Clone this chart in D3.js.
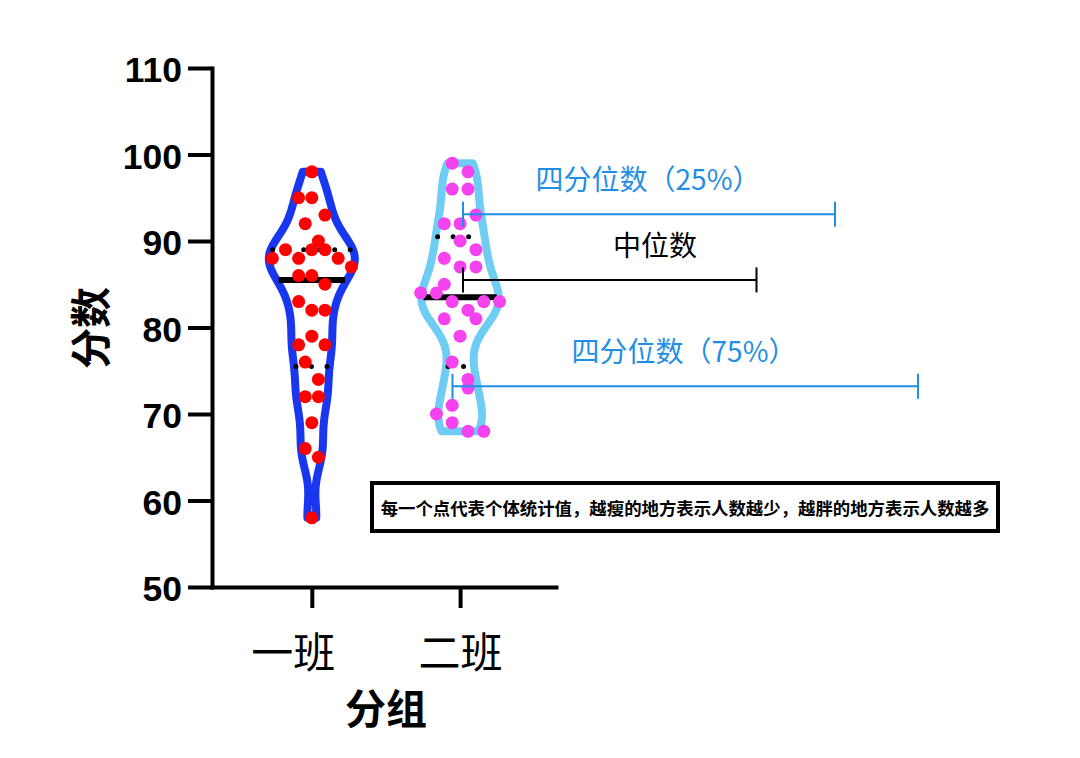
<!DOCTYPE html>
<meta charset="utf-8">
<style type="text/css">
	body { margin: 0; background: #fff; }
	svg { display: block; }
	.axis path, .axis line { stroke: #000; stroke-width: 4px; }
	.axis path { stroke-linecap: square; }
	.y.axis text {
		font-family: "Liberation Sans", Arial, sans-serif;
		font-weight: bold;
		font-size: 35.5px;
		fill: #000;
	}
	.x.axis text {
		font-family: "Noto Sans CJK SC", sans-serif;
		font-size: 42px;
		fill: #000;
	}
	.axis-title {
		font-family: "Noto Sans CJK SC", sans-serif;
		font-weight: bold;
		font-size: 41px;
	}
	.marker-label {
		font-family: "Noto Sans CJK SC", sans-serif;
		font-size: 28px;
	}
	.note {
		font-family: "Noto Sans CJK SC", sans-serif;
		font-weight: bold;
		font-size: 17.4px;
	}
</style>
<body></body>
<script src="https://d3js.org/d3.v7.min.js"></script>
<script>

	// data (within a row of dots: left to right)
	var groups = ["一班", "二班"];
	var class1Scores = [98, 95, 95, 93, 92, 90, 88, 89, 88, 89, 89, 88, 87, 86, 86,
		85, 83, 82, 82, 78, 79, 78, 76, 72, 72, 74, 69, 66, 65, 58];
	var class2Scores = [99, 98, 96, 96, 92, 92, 93, 88, 90, 89, 85, 87, 87, 84, 84,
		83, 82, 83, 83, 81, 79, 81, 76, 74, 71, 73, 70, 69, 68, 68];
	var yTicks = [50, 60, 70, 80, 90, 100, 110];
	var yTitle = "分数";
	var xTitle = "分组";
	var markerLabels = ["四分位数（25%）", "中位数", "四分位数（75%）"];
	var markerValues = [93.1, 85.5, 73.2];
	var noteText = "每一个点代表个体统计值，越瘦的地方表示人数越少，越胖的地方表示人数越多";

	var outlineColors = ["#1a37f0", "#6fcdf4"];
	var dotColors = ["#ff0000", "#f442ee"];
	var markerColors = ["#1f8fe5", "#000", "#1f8fe5"];

	var width = 1080, height = 758;

	var svg = d3.select("body").append("svg")
		.attr("width", width)
		.attr("height", height);

	var yScale = d3.scaleLinear()
		.domain([50, 110])
		.range([587, 68]);

	var xScale = d3.scalePoint()
		.domain(groups)
		.range([212, 556])
		.padding(0.66)
		.align(0.51);

	// axes
	svg.append("g")
		.attr("class", "y axis")
		.attr("transform", "translate(212,0)")
		.call(d3.axisLeft(yScale)
			.tickValues(yTicks)
			.tickSize(24)
			.tickSizeOuter(0)
			.tickPadding(6))
		.selectAll("text")
		.attr("dy", "0.38em");

	var xAxis = svg.append("g")
		.attr("class", "x axis")
		.attr("transform", "translate(0,587)")
		.call(d3.axisBottom(xScale)
			.tickSize(21)
			.tickSizeOuter(0));
	xAxis.selectAll("text")
		.attr("y", 81)
		.attr("dy", 0)
		.attr("dx", function(d, i) { return i === 0 ? -19 : 0; });

	svg.append("text")
		.attr("class", "axis-title")
		.attr("transform", "translate(88,328) rotate(-90)")
		.attr("text-anchor", "middle")
		.attr("dominant-baseline", "central")
		.text(yTitle);

	svg.append("text")
		.attr("class", "axis-title")
		.attr("x", 386)
		.attr("y", 724)
		.attr("text-anchor", "middle")
		.text(xTitle);

	// violins (gaussian kde, clipped at min / max like prism)
	var bandwidth = 2.4;
	var maxHalf = 43;
	var allGroups = [class1Scores, class2Scores];

	function density(values, t) {
		return d3.sum(values, function(v) {
			var u = (t - v) / bandwidth;
			return Math.exp(-0.5 * u * u);
		});
	}

	var curves = allGroups.map(function(values) {
		var lo = d3.min(values), hi = d3.max(values);
		var pts = [];
		for (var t = lo; t < hi; t += 0.2) pts.push({v: t, d: density(values, t)});
		pts.push({v: hi, d: density(values, hi)});
		return pts;
	});
	var maxD = d3.max(curves, function(c) { return d3.max(c, function(p) { return p.d; }); });
	var wScale = d3.scaleLinear().domain([0, maxD]).range([0, maxHalf]);

	// prism style quartiles: (n+1)p
	function quart(values, p) {
		var s = values.slice().sort(d3.ascending);
		var pos = (s.length + 1) * p - 1;
		var i = Math.floor(pos), f = pos - i;
		return s[i] + f * (s[i + 1] - s[i]);
	}

	var line = d3.line()
		.x(function(d) { return d[0]; })
		.y(function(d) { return d[1]; });

	allGroups.forEach(function(values, gi) {
		var cx = xScale(groups[gi]);
		var c = curves[gi];
		var right = c.map(function(p) { return [cx + wScale(p.d), yScale(p.v)]; });
		var left = c.slice().reverse().map(function(p) { return [cx - wScale(p.d), yScale(p.v)]; });

		svg.append("path")
			.attr("d", line(right.concat(left)) + "Z")
			.attr("fill", "none")
			.attr("stroke", outlineColors[gi])
			.attr("stroke-width", 8)
			.attr("stroke-linejoin", "round");

		// quartile lines
		[0.25, 0.5, 0.75].forEach(function(p) {
			var q = quart(values, p);
			var w = wScale(density(values, q)) - 2;
			var l = svg.append("line")
				.attr("x1", cx - w)
				.attr("x2", cx + w)
				.attr("y1", yScale(q))
				.attr("y2", yScale(q))
				.attr("stroke", "#000");
			if (p === 0.5) {
				l.attr("stroke-width", 6);
			} else {
				l.attr("stroke-width", 5)
					.attr("stroke-linecap", "round")
					.attr("stroke-dasharray", "0 15.5");
			}
		});
	});

	// dots: values binned into rows (2.5 wide), each row spread round the centre
	var r = 6.5;
	var rowSpan = 79;
	function rows(values) {
		var idx = d3.range(values.length).sort(function(a, b) { return values[b] - values[a] || a - b; });
		var bins = [], cur = null;
		idx.forEach(function(i) {
			if (!cur || values[i] <= cur.top - 2.5) {
				cur = {top: values[i], items: []};
				bins.push(cur);
			}
			cur.items.push(i);
		});
		var maxN = d3.max(bins, function(b) { return b.items.length; });
		var step = rowSpan / (maxN - 1);
		var offs = [];
		bins.forEach(function(b) {
			b.items.sort(d3.ascending);
			b.items.forEach(function(i, k) {
				offs[i] = (k - (b.items.length - 1) / 2) * step;
			});
		});
		return offs;
	}

	allGroups.forEach(function(values, gi) {
		var cx = xScale(groups[gi]);
		var offs = rows(values);
		svg.append("g")
			.selectAll("circle")
			.data(values)
			.enter()
			.append("circle")
			.attr("cx", function(d, i) { return cx + offs[i]; })
			.attr("cy", function(d) { return yScale(d); })
			.attr("r", r)
			.attr("fill", dotColors[gi]);
	});

	// annotation brackets
	var bracketX0 = [463, 463, 452.5];
	var bracketX1 = [835, 756.5, 918];
	var labelX = [648, 655, 684];
	markerValues.forEach(function(v, i) {
		var yy = yScale(v);
		var g = svg.append("g")
			.attr("stroke", markerColors[i])
			.attr("stroke-width", 2);
		g.append("line")
			.attr("x1", bracketX0[i]).attr("x2", bracketX1[i])
			.attr("y1", yy).attr("y2", yy);
		g.append("line")
			.attr("x1", bracketX0[i]).attr("x2", bracketX0[i])
			.attr("y1", yy - 12.5).attr("y2", yy + 12.5);
		g.append("line")
			.attr("x1", bracketX1[i]).attr("x2", bracketX1[i])
			.attr("y1", yy - 12.5).attr("y2", yy + 12.5);
		svg.append("text")
			.attr("class", "marker-label")
			.attr("x", labelX[i])
			.attr("y", yy - 24)
			.attr("text-anchor", "middle")
			.attr("fill", markerColors[i])
			.text(markerLabels[i]);
	});

	// note box
	svg.append("rect")
		.attr("x", 372)
		.attr("y", 483)
		.attr("width", 626)
		.attr("height", 48)
		.attr("fill", "#fff")
		.attr("stroke", "#000")
		.attr("stroke-width", 4);
	svg.append("text")
		.attr("class", "note")
		.attr("x", 685)
		.attr("y", 507)
		.attr("text-anchor", "middle")
		.attr("dominant-baseline", "central")
		.text(noteText);

</script>
